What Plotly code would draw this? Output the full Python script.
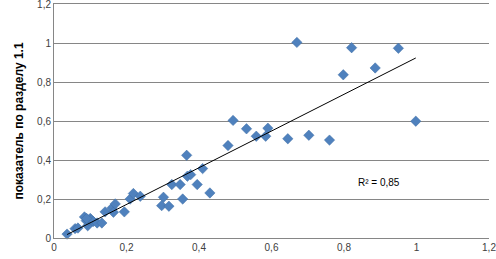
import numpy as np
import plotly.graph_objects as go

x_vals = [0.036, 0.058, 0.066, 0.084, 0.089, 0.093, 0.096, 0.100, 0.103, 0.108, 0.090,
          0.119, 0.132, 0.141, 0.160, 0.164, 0.169, 0.194, 0.210, 0.219, 0.238,
          0.297, 0.302, 0.317, 0.325, 0.348, 0.355, 0.366, 0.368, 0.377, 0.395,
          0.410, 0.430, 0.480, 0.494, 0.531, 0.558, 0.584, 0.590, 0.645, 0.670,
          0.703, 0.760, 0.798, 0.821, 0.886, 0.950, 0.998]
y_vals = [0.020, 0.048, 0.051, 0.108, 0.089, 0.063, 0.090, 0.100, 0.092, 0.085, 0.100,
          0.077, 0.077, 0.134, 0.154, 0.132, 0.175, 0.134, 0.200, 0.228, 0.214,
          0.166, 0.209, 0.163, 0.274, 0.274, 0.200, 0.424, 0.317, 0.325, 0.274,
          0.356, 0.231, 0.474, 0.603, 0.560, 0.522, 0.522, 0.563, 0.509, 1.003,
          0.527, 0.502, 0.837, 0.976, 0.872, 0.973, 0.599]

tick_vals = [0, 0.2, 0.4, 0.6, 0.8, 1.0, 1.2]
tick_text = ["0", "0,2", "0,4", "0,6", "0,8", "1", "1,2"]
y_title = "показатель по разделу 1.1"
r2_text = "R² = 0,85"

# linear trendline through the data
slope, intercept = np.polyfit(x_vals, y_vals, 1)
tx = [min(x_vals), max(x_vals)]
ty = [slope * v + intercept for v in tx]

FONT = "Liberation Sans, Arial, sans-serif"

fig = go.Figure()
fig.add_trace(go.Scatter(
    x=x_vals, y=y_vals, mode="markers",
    marker=dict(symbol="diamond", size=8, color="#4F81BD",
                line=dict(width=0.5, color="#3F6FA5")),
    showlegend=False, hoverinfo="skip", cliponaxis=False))
fig.add_trace(go.Scatter(
    x=tx, y=ty, mode="lines",
    line=dict(color="black", width=1),
    showlegend=False, hoverinfo="skip"))

fig.add_annotation(x=0.897, y=0.284, text=r2_text, showarrow=False,
                   font=dict(size=10, color="#000000", family=FONT))

axis_font = dict(size=10, color="#404040", family=FONT)
fig.update_xaxes(range=[0, 1.2], tickvals=tick_vals, ticktext=tick_text,
                 showgrid=False, zeroline=False, showline=True, mirror=True,
                 linecolor="#868686", linewidth=1, ticks="",
                 tickfont=axis_font, automargin=False, ticklabeloverflow="allow")
fig.update_yaxes(range=[0, 1.2], tickvals=tick_vals, ticktext=tick_text,
                 showgrid=True, gridcolor="#868686", gridwidth=1,
                 zeroline=False, showline=True, linecolor="#868686", linewidth=1,
                 ticks="", tickfont=axis_font, automargin=False,
                 ticklabeloverflow="allow",
                 title=dict(text="<b>" + y_title + "</b>", standoff=10,
                            font=dict(size=12, color="#000000", family=FONT)))

fig.update_layout(width=496, height=259,
                  margin=dict(l=54, r=7, t=4, b=21),
                  plot_bgcolor="white", paper_bgcolor="white")

fig.write_html("out.html", config={"displayModeBar": False, "staticPlot": True},
               post_script="document.body.style.margin='0px';document.body.style.padding='0px';")
